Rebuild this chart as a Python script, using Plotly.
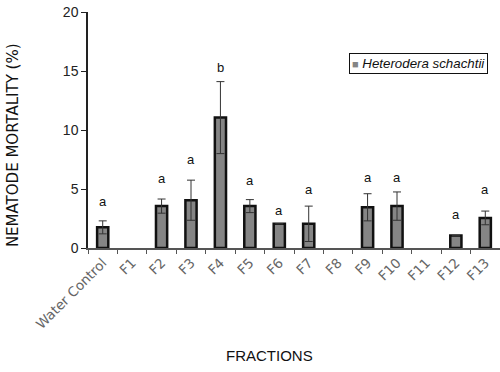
import plotly.graph_objects as go

categories = ["Water Control", "F1", "F2", "F3", "F4", "F5", "F6", "F7",
              "F8", "F9", "F10", "F11", "F12", "F13"]
mortality = [1.75, 0, 3.55, 4.05, 11.05, 3.55, 2.05, 2.05, 0, 3.45, 3.55, 0, 1.05, 2.55]
errors = [0.55, 0, 0.6, 1.7, 3.05, 0.55, 0, 1.5, 0, 1.15, 1.2, 0, 0, 0.58]
letters = ["a", "", "a", "a", "b", "a", "a", "a", "", "a", "a", "", "a", "a"]
letter_y = [3.9, None, 5.9, 7.5, 15.3, 5.7, 3.2, 5.0, None, 6.0, 6.0, None, 2.85, 5.0]
series_name = "Heterodera schachtii"

FONT = "Liberation Sans, Arial, sans-serif"
WIDE = "DejaVu Sans, sans-serif"

# zero values: no bar drawn
bar_y = [v if v > 0 else None for v in mortality]
bar_err = [e if v > 0 else None for v, e in zip(mortality, errors)]

fig = go.Figure()
fig.add_trace(go.Bar(
    x=categories, y=bar_y, name=series_name, showlegend=False,
    width=0.38,
    marker=dict(color="#858585", line=dict(color="#111111", width=2.5)),
    error_y=dict(type="data", array=bar_err, visible=True,
                 color="#333333", thickness=1, width=4),
))

for c, t, yv in zip(categories, letters, letter_y):
    if t:
        fig.add_annotation(x=c, y=yv, text=t, showarrow=False,
                           font=dict(family=FONT, size=13, color="#111111"),
                           xanchor="center", yanchor="middle")

# legend box
fig.add_annotation(
    xref="paper", yref="paper", x=0.633, y=0.828, xanchor="left", yanchor="top",
    text="<span style='color:#858585;font-size:11px'>■</span> <i>" + series_name + "</i>",
    showarrow=False, align="left",
    font=dict(family=FONT, size=13.3, color="#111111"),
    bordercolor="#111111", borderwidth=1, borderpad=2, bgcolor="white",
)

# axis titles
fig.add_annotation(xref="paper", yref="paper", x=-0.182, y=0.436, textangle=-90,
                   text="NEMATODE MORTALITY (%)", showarrow=False,
                   font=dict(family=WIDE, size=15, color="#111111"),
                   xanchor="center", yanchor="middle")
fig.add_annotation(xref="paper", yref="paper", x=0.44, y=-0.455,
                   text="FRACTIONS", showarrow=False,
                   font=dict(family=FONT, size=15, color="#111111"),
                   xanchor="center", yanchor="middle")

fig.update_layout(
    width=500, height=372,
    margin=dict(l=88, r=0, t=12, b=124),
    plot_bgcolor="white", paper_bgcolor="white",
    xaxis=dict(
        type="category", showline=True, linecolor="#555555", linewidth=1.5,
        ticks="outside", tickson="boundaries", ticklen=4, tickcolor="#555555",
        tickangle=-45, showgrid=False, zeroline=False,
        tickfont=dict(family=WIDE, size=13.5, color="#666666"),
    ),
    yaxis=dict(
        range=[0, 20], dtick=5, showline=True, linecolor="#222222", linewidth=1.5,
        ticks="outside", ticklen=5, tickcolor="#222222", showgrid=False,
        zeroline=False,
        tickfont=dict(family=FONT, size=14, color="#222222"),
    ),
)

fig.write_html("out.html", config={"displayModeBar": False},
               post_script="document.body.style.margin='0';document.body.style.overflow='hidden';")
